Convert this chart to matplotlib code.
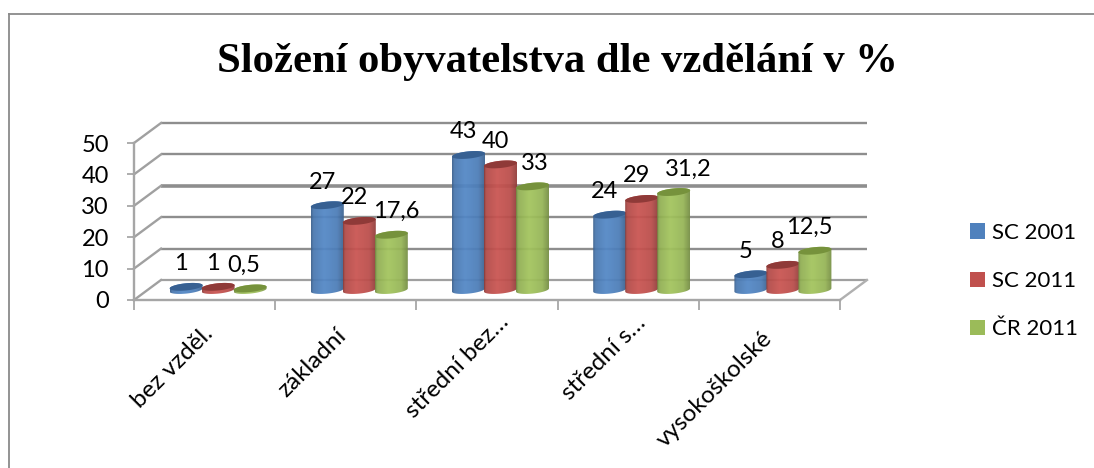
import numpy as np
import matplotlib
matplotlib.use("Agg")
import matplotlib.pyplot as plt
from matplotlib.lines import Line2D
from matplotlib.patches import Patch, Polygon
from matplotlib.path import Path
from matplotlib.transforms import ScaledTranslation

TITLE = "Složení obyvatelstva dle vzdělání v %"
categories = ["bez vzděl.", "základní", "střední bez…", "střední s…", "vysokoškolské"]
series_names = ["SC 2001", "SC 2011", "ČR 2011"]
sc_2001 = [1, 27, 43, 24, 5]
sc_2011 = [1, 22, 40, 29, 8]
cr_2011 = [0.5, 17.6, 33, 31.2, 12.5]
value_labels = [["1", "27", "43", "24", "5"],
                ["1", "22", "40", "29", "8"],
                ["0,5", "17,6", "33", "31,2", "12,5"]]
y_ticks = [0, 10, 20, 30, 40, 50]

colors = ["#4f81bd", "#c0504d", "#9bbb59"]
cap_colors = ["#376092", "#8f3a38", "#76923c"]
wide_dx_px = {"0,5": -6, "17,6": 5, "33": 2, "31,2": 15, "12,5": -6}
category_shift_x_px = [-2, -10, 11, 7, -8]
category_shift_y_px = [11, 8, 22, 21, 6]

W, H = 1094, 468
fig = plt.figure(figsize=(W / 100, H / 100), dpi=100, facecolor="white")
ax = fig.add_axes([134 / W, 1 - 300 / H, (840 - 134) / W, (300 - 143) / H])
ax.set_facecolor("none")
ax.set_xlim(0, 5)
ax.set_ylim(0, 50)

FONT = "Lato"
PX_X = (840 - 134) / 5
PX_Y = (300 - 143) / 50
DEPTH_X = 27 / PX_X
DEPTH_Y = 20 / PX_Y
BAR_W = 32 / PX_X
A = 16.5 / PX_X
B = 3.6 / PX_Y
K = 1.6 / PX_Y

# frame of the chart area
fig.add_artist(Line2D([9 / W, 9 / W], [0, 1 - 13.5 / H], color="#8a8a8a", lw=1.3))
fig.add_artist(Line2D([9 / W, 1], [1 - 13.5 / H, 1 - 13.5 / H], color="#8a8a8a", lw=1.3))

# walls
GREY = "#8e8e8e"
for v in y_ticks:
    if v == 0:
        lw, col = 1.6, "#a0a0a0"
    elif v == 30:
        lw, col = 2.6, GREY
    else:
        lw, col = 1.7, GREY
    ax.plot([DEPTH_X, 5 + DEPTH_X], [v + DEPTH_Y, v + DEPTH_Y], color=col, lw=lw,
            clip_on=False, zorder=1, solid_capstyle="butt")
    ax.plot([0, DEPTH_X], [v, v + DEPTH_Y], color="#a0a0a0", lw=1.7, clip_on=False, zorder=1)
ax.plot([5, 5 + DEPTH_X], [0, DEPTH_Y], color="#b0b0b0", lw=1.7, clip_on=False, zorder=1)

# axes
for s in ("top", "right"):
    ax.spines[s].set_visible(False)
for s in ("left", "bottom"):
    ax.spines[s].set_color("#a6a6a6")
    ax.spines[s].set_linewidth(1.7)
ax.set_yticks(y_ticks)
ax.set_yticklabels([str(v) for v in y_ticks], fontsize=17, family=FONT, color="black")
ax.set_xticks(range(6))
ax.set_xticklabels([])
ax.tick_params(axis="y", length=5, width=1.2, color="#a0a0a0", pad=13)
ax.tick_params(axis="x", length=7, width=1.2, color="#a0a0a0")
ax.set_xticks(np.arange(5) + 0.5, minor=True)
cat_labels = ax.set_xticklabels(categories, minor=True, rotation=45, ha="right", va="top",
                                rotation_mode="anchor", fontsize=17.5, family=FONT)
ax.tick_params(axis="x", which="minor", length=0, pad=24)
for lab, sx, sy in zip(cat_labels, category_shift_x_px, category_shift_y_px):
    lab.set_transform(lab.get_transform() + ScaledTranslation(sx / 100, sy / 100, fig.dpi_scale_trans))

# cylinders
t = np.linspace(0, 1, 64)
profile = np.interp(t, [0, 0.07, 0.4, 0.8, 1], [0.74, 0.93, 1.05, 0.97, 0.76])
t_low = np.linspace(np.pi, 2 * np.pi, 40)
t_up = np.linspace(0, np.pi, 40)
t_all = np.linspace(0, 2 * np.pi, 60)
series = [sc_2001, sc_2011, cr_2011]
base = DEPTH_Y / 2


def ell(cx, cy, ts):
    return np.column_stack([cx + A * np.cos(ts), cy + B * np.sin(ts) + K * np.cos(ts)])


for j, vals in enumerate(series):
    rgb = np.array(matplotlib.colors.to_rgb(colors[j]))
    grad = np.clip(profile[:, None] * rgb, 0, 1)[None, :, :]
    for i, v in enumerate(vals):
        cx = i + 0.5 + DEPTH_X / 2 + (j - 1) * BAR_W
        top = base + v
        body = np.vstack([ell(cx, base, t_low), ell(cx, top, t_up)])
        im = ax.imshow(grad, extent=[cx - A, cx + A, base - 2 * B, top + 2 * B],
                       aspect="auto", alpha=0.94, zorder=3 + j, interpolation="bilinear")
        im.set_clip_path(Path(body), ax.transData)
        ax.add_patch(Polygon(ell(cx, top, t_all), closed=True, fc=cap_colors[j], ec="none",
                             zorder=3 + j))
        txt = value_labels[j][i]
        dx = wide_dx_px.get(txt, -5)
        ax.annotate(txt, (cx, top), xytext=(dx * 0.72, 23 * 0.72), textcoords="offset points",
                    ha="center", va="center", fontsize=17, family=FONT, color="black", zorder=10)

ax.set_xlim(0, 5)
ax.set_ylim(0, 50)

fig.text(557 / W, 1 - 62 / H, TITLE, ha="center", va="center", fontsize=30.7,
         family="Liberation Serif", fontweight="bold", color="black")

handles = [Patch(fc=c, ec="none") for c in colors]
fig.legend(handles, series_names, loc="center left", bbox_to_anchor=(970 / W, 1 - 281 / H),
           frameon=False, prop={"family": FONT, "size": 16}, handlelength=0.68, handleheight=0.68,
           handletextpad=0.33, labelspacing=1.27, borderpad=0, borderaxespad=0)

fig.savefig("out.png", dpi=100)
